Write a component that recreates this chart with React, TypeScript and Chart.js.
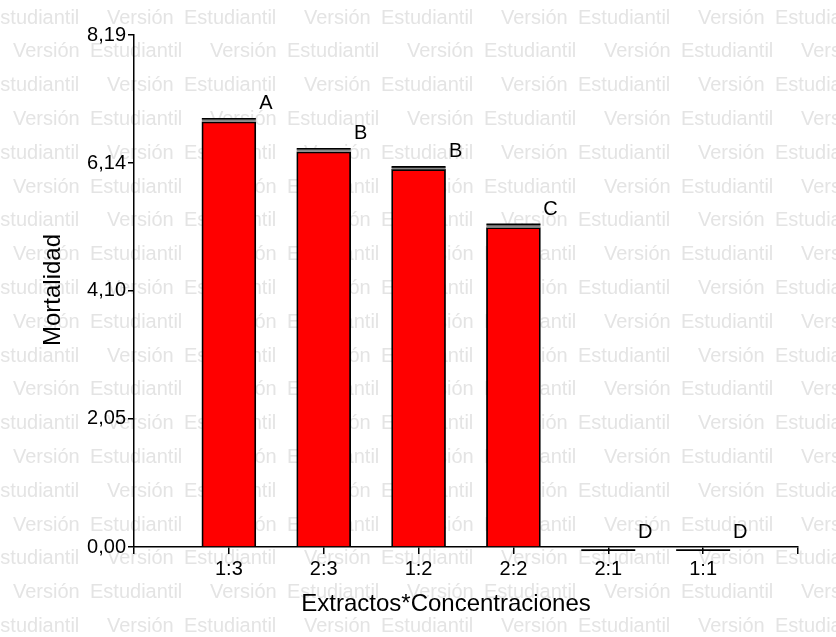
import React, { useEffect, useRef } from "react";
import { Chart, registerables } from "chart.js";

Chart.register(...registerables);

const categories = ["1:3", "2:3", "1:2", "2:2", "2:1", "1:1"];
const meanValues = [6.8, 6.32, 6.04, 5.11, 0, 0];
const errorTops = [6.85, 6.37, 6.08, 5.16, -0.05, -0.05];
const groupLetters = ["A", "B", "B", "C", "D", "D"];
const yTickValues = [0, 2.05, 4.1, 6.14, 8.19];
const yTickLabels = ["0,00", "2,05", "4,10", "6,14", "8,19"];
const xTitle = "Extractos*Concentraciones";
const yTitle = "Mortalidad";
const watermarkWords = ["Versión", "Estudiantil"];

const FONT = "'Liberation Sans', Arial, sans-serif";

const watermarkPlugin = {
  id: "watermark",
  beforeDraw(chart: any) {
    const { ctx, width, height } = chart;
    ctx.save();
    ctx.fillStyle = "#ffffff";
    ctx.fillRect(0, 0, width, height);
    ctx.font = `20px ${FONT}`;
    ctx.fillStyle = "#e4e4e4";
    ctx.textBaseline = "middle";
    ctx.textAlign = "left";
    for (let r = 0; r < 19; r++) {
      const y = 18 + r * 33.8;
      const start = r % 2 === 0 ? -90 : 13;
      for (let x = start; x < width; x += 197) {
        ctx.fillText(watermarkWords[0], x, y);
        ctx.fillText(watermarkWords[1], x + 77, y);
      }
    }
    ctx.restore();
  },
};

const annotationsPlugin = {
  id: "annotations",
  afterDatasetsDraw(chart: any) {
    const { ctx } = chart;
    const yScale = chart.scales.y;
    const meta = chart.getDatasetMeta(0);
    ctx.save();
    meta.data.forEach((bar: any, i: number) => {
      const half = 27;
      const capY = yScale.getPixelForValue(errorTops[i]);
      const topY = yScale.getPixelForValue(meanValues[i]);
      if (capY < topY) {
        ctx.fillStyle = "#8a8a8a";
        ctx.fillRect(bar.x - half, capY, half * 2, topY - capY);
      }
      ctx.strokeStyle = "#000";
      ctx.lineWidth = 1.6;
      ctx.beginPath();
      ctx.moveTo(bar.x - half, capY);
      ctx.lineTo(bar.x + half, capY);
      ctx.stroke();
      ctx.fillStyle = "#000";
      ctx.font = `20px ${FONT}`;
      ctx.textAlign = "center";
      ctx.textBaseline = "middle";
      ctx.fillText(groupLetters[i], bar.x + 37, Math.min(capY, topY) - 15);
    });
    // axis titles
    ctx.fillStyle = "#000";
    ctx.font = `24px ${FONT}`;
    ctx.textAlign = "center";
    ctx.textBaseline = "alphabetic";
    ctx.fillText(xTitle, 446, 611);
    ctx.translate(60, 290);
    ctx.rotate(-Math.PI / 2);
    ctx.fillText(yTitle, 0, 0);
    ctx.restore();
  },
};

export default function App() {
  const canvasRef = useRef<HTMLCanvasElement>(null);

  useEffect(() => {
    document.body.style.margin = "0";
    const canvas = canvasRef.current;
    if (!canvas) return;
    Chart.defaults.color = "#000";
    const chart = new Chart(canvas, {
      type: "bar",
      data: {
        datasets: [
          {
            data: meanValues.map((v, i) => ({ x: i + 1, y: v })),
            backgroundColor: "#ff0000",
            borderColor: "#000000",
            borderWidth: 1.8,
            barThickness: 54,
          },
        ],
      },
      options: {
        responsive: false,
        animation: false,
        devicePixelRatio: 1,
        layout: { padding: { top: 35, right: 38, left: 0, bottom: 0 } },
        plugins: {
          legend: { display: false },
          tooltip: { enabled: false },
        },
        scales: {
          x: {
            type: "linear",
            min: 0,
            max: 7,
            offset: false,
            afterFit: (s: any) => {
              s.height = 90;
            },
            afterBuildTicks: (s: any) => {
              s.ticks = [0, 1, 2, 3, 4, 5, 6, 7].map((v) => ({ value: v }));
            },
            ticks: {
              autoSkip: false,
              maxRotation: 0,
              padding: 3,
              font: { family: FONT, size: 20 },
              color: "#000",
              callback: (v: any) => categories[Number(v) - 1] ?? "",
            },
            grid: {
              offset: false,
              drawOnChartArea: false,
              drawTicks: true,
              tickLength: 7,
              color: "#000",
              lineWidth: 1.5,
            },
            border: { display: true, color: "#000", width: 1.5 },
          },
          y: {
            type: "linear",
            min: 0,
            max: 8.19,
            afterFit: (s: any) => {
              s.width = 134;
            },
            afterBuildTicks: (s: any) => {
              s.ticks = yTickValues.map((v) => ({ value: v }));
            },
            ticks: {
              padding: 2,
              font: { family: FONT, size: 20 },
              color: "#000",
              callback: (_v: any, idx: number) => yTickLabels[idx],
            },
            grid: {
              drawOnChartArea: false,
              drawTicks: true,
              tickLength: 6,
              color: "#000",
              lineWidth: 1.5,
            },
            border: { display: true, color: "#000", width: 1.5 },
          },
        },
      },
      plugins: [watermarkPlugin, annotationsPlugin],
    } as any);
    return () => chart.destroy();
  }, []);

  return (
    <div style={{ width: 836, height: 637 }}>
      <canvas ref={canvasRef} width={836} height={637} />
    </div>
  );
}
